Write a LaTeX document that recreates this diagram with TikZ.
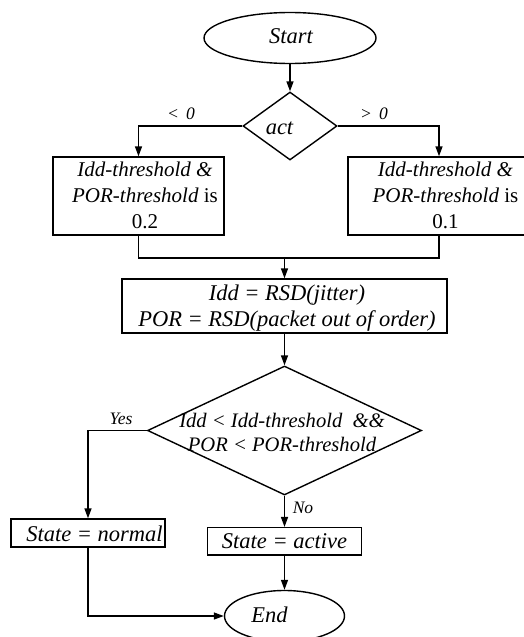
\documentclass[tikz,border=0pt]{standalone}
\usepackage{fontspec}
\setmainfont{Liberation Serif}
\usetikzlibrary{shapes.geometric,arrows.meta}
\begin{document}
\begin{tikzpicture}[x=1pt,y=-1pt,line width=1.4pt,
  arr/.style={-{Triangle[length=10pt,width=7pt]}},
  shp/.style={draw,inner sep=0pt,line width=1.4pt},
  txt/.style={inner sep=0pt,font=\fontsize{22.5}{25.7}\selectfont\itshape},
  thr/.style={inner sep=0pt,align=center,font=\fontsize{21}{26}\selectfont},
  cnd/.style={inner sep=0pt,align=center,font=\fontsize{20.6}{23.3}\selectfont\itshape},
  lbl/.style={inner sep=0pt,anchor=base,font=\fontsize{17.5}{20}\selectfont\itshape}]
\useasboundingbox (0,0) rectangle (523,637);
% shapes
\node[shp,ellipse,minimum width=172pt,minimum height=51pt] (start) at (290,38) {};
\node[txt,anchor=base] (starttxt) at (291,43) {Start};
\node[shp,diamond,minimum width=94pt,minimum height=68pt] (act) at (290,126) {};
\node[txt,anchor=base] (acttxt) at (279.5,134) {act};
\node[shp,rectangle,minimum width=171pt,minimum height=78pt] (lbox) at (138.5,196) {};
\node[thr] (ltxt) at (145,195.7) {\textit{Idd-threshold \&}\\\textit{POR-threshold} is\\0.2};
\node[shp,rectangle,minimum width=182pt,minimum height=78pt] (rbox) at (439,196) {};
\node[thr] (rtxt) at (445.5,195.7) {\textit{Idd-threshold \&}\\\textit{POR-threshold} is\\0.1};
\coordinate (join) at (284.5,258);
\node[shp,rectangle,minimum width=325pt,minimum height=54pt] (idd) at (284.5,306) {};
\node[txt,align=center] (iddtxt) at (287,308.3) {Idd = RSD(jitter)\\POR = RSD(packet out of order)};
\node[shp,diamond,minimum width=274pt,minimum height=129pt] (cond) at (284.5,430.5) {};
\node[cnd] (condtxt) at (282,432.4) {Idd < Idd-threshold\ \ \&\&\\POR < POR-threshold};
\node[shp,rectangle,minimum width=154pt,minimum height=28pt] (normal) at (88,533) {};
\node[txt,anchor=base] (normaltxt) at (94.5,541.7) {State = normal};
\node[shp,rectangle,minimum width=154pt,minimum height=27.3pt] (active) at (284.5,541.3) {};
\node[txt,anchor=base] (activetxt) at (284.5,548.3) {State = active};
\node[shp,ellipse,minimum width=120pt,minimum height=51pt] (end) at (284.5,616) {};
\node[txt,anchor=base] (endtxt) at (269.5,622.7) {End};
% labels
\node[lbl] (lneg) at (181,119) {<\ \,0};
\node[lbl] (lpos) at (374,119) {>\ \,0};
\node[lbl] (lyes) at (121,424) {Yes};
\node[lbl] (lno) at (303,513) {No};
% connectors
\draw[arr] (start.south) -- (act.north);
\draw[arr] (act.west) -| (lbox.north);
\draw[arr] (act.east) -| (rbox.north);
\draw (lbox.south) |- (join) -| (rbox.south);
\draw[arr] (join) -- (idd.north);
\draw[arr] (idd.south) -- (cond.north);
\draw[arr] (cond.west) -| (normal.north);
\draw[arr] (cond.south) -- (active.north);
\draw[arr] (active.south) -- (end.north);
\draw[arr] (normal.south) |- (end.west);
\end{tikzpicture}
\end{document}
